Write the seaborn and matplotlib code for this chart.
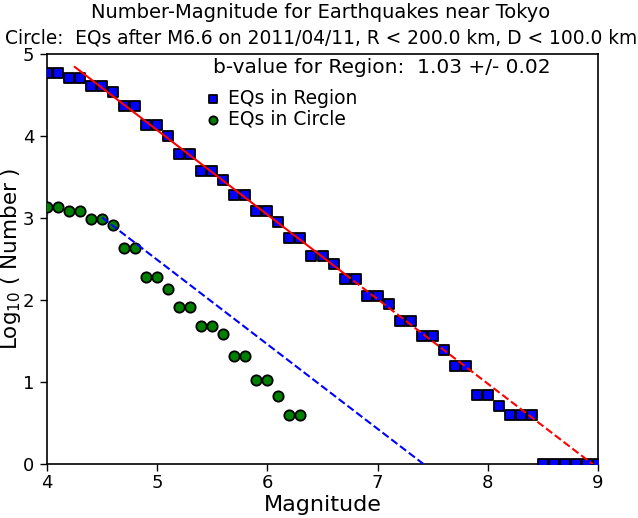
import numpy as np
import pandas as pd
import matplotlib
matplotlib.use("Agg")
import matplotlib.pyplot as plt
import seaborn as sns

# Magnitude bins (cumulative counts, log10)
mag_region = [4.0, 4.1, 4.2, 4.3, 4.4, 4.5, 4.6, 4.7, 4.8, 4.9, 5.0, 5.1, 5.2, 5.3,
              5.4, 5.5, 5.6, 5.7, 5.8, 5.9, 6.0, 6.1, 6.2, 6.3, 6.4, 6.5, 6.6, 6.7,
              6.8, 6.9, 7.0, 7.1, 7.2, 7.3, 7.4, 7.5, 7.6, 7.7, 7.8, 7.9, 8.0, 8.1,
              8.2, 8.3, 8.4, 8.5, 8.6, 8.7, 8.8, 8.9, 9.0]
logn_region = [4.77, 4.77, 4.71, 4.71, 4.61, 4.61, 4.54, 4.36, 4.36, 4.13, 4.13, 4.00,
               3.78, 3.78, 3.57, 3.57, 3.46, 3.28, 3.28, 3.08, 3.08, 2.95, 2.75, 2.75,
               2.54, 2.54, 2.44, 2.26, 2.26, 2.05, 2.05, 1.95, 1.75, 1.75, 1.56, 1.56,
               1.39, 1.20, 1.20, 0.84, 0.84, 0.71, 0.60, 0.60, 0.60, 0.0, 0.0, 0.0,
               0.0, 0.0, 0.0]

mag_circle = [4.0, 4.1, 4.2, 4.3, 4.4, 4.5, 4.6, 4.7, 4.8, 4.9, 5.0, 5.1, 5.2, 5.3,
              5.4, 5.5, 5.6, 5.7, 5.8, 5.9, 6.0, 6.1, 6.2, 6.3]
logn_circle = [3.13, 3.13, 3.09, 3.09, 2.99, 2.99, 2.91, 2.64, 2.64, 2.28, 2.28, 2.14,
               1.91, 1.91, 1.68, 1.68, 1.58, 1.32, 1.32, 1.03, 1.03, 0.83, 0.60, 0.60]

# Gutenberg-Richter fit: log10 N = a - b*M
b_value = 1.03
b_err = 0.02
a_region = 9.22
a_circle = 7.64
fit_min = 4.25
fit_max = 6.7
circle_start = 4.5

df_region = pd.DataFrame({"Magnitude": mag_region, "LogN": logn_region})
df_circle = pd.DataFrame({"Magnitude": mag_circle, "LogN": logn_circle})

sns.set_style("ticks")
plt.rcParams['font.family'] = ['DejaVu Sans']
plt.rcParams.update({'text.color': 'black', 'axes.labelcolor': 'black',
                     'xtick.color': 'black', 'ytick.color': 'black',
                     'axes.edgecolor': 'black'})

fig = plt.figure(figsize=(6.38, 5.18), dpi=100)
ax = fig.add_axes([0.0737, 0.104, 0.8636, 0.792])

sns.scatterplot(data=df_region, x="Magnitude", y="LogN", marker="s", s=48,
                color="#0000ff", edgecolor="black", linewidth=1.3,
                label="EQs in Region", ax=ax, zorder=3)
sns.scatterplot(data=df_circle, x="Magnitude", y="LogN", marker="o", s=55,
                color="green", edgecolor="black", linewidth=1.3,
                label="EQs in Circle", ax=ax, zorder=3)

# fit lines
m_solid = np.array([fit_min, fit_max])
m_dash = np.array([fit_max, 9.0])
m_circ = np.array([circle_start, 9.0])
ax.plot(m_solid, a_region - b_value * m_solid, color="red", lw=1.5, zorder=4)
ax.plot(m_dash, a_region - b_value * m_dash, color="red", lw=1.5, ls="--", zorder=4)
ax.plot(m_circ, a_circle - b_value * m_circ, color="blue", lw=1.5, ls="--", zorder=4)

ax.set_xlim(4, 9)
ax.set_ylim(0, 5)
ax.set_xticks([4, 5, 6, 7, 8, 9])
ax.set_yticks([0, 1, 2, 3, 4, 5])
ax.tick_params(labelsize=13, length=5, width=1, pad=4)
ax.tick_params(axis="x", pad=2)
for sp in ax.spines.values():
    sp.set_visible(True)
    sp.set_linewidth(1.2)

ax.set_xlabel("Magnitude", fontsize=16)
ax.xaxis.set_label_coords(0.5, -0.075)
ax.set_ylabel("Log$_{10}$ ( Number )", fontsize=15.5)
ax.yaxis.set_label_coords(-0.044, 0.5)

fig.text(0.503, 1 - 12 / 518, "Number-Magnitude for Earthquakes near Tokyo",
         fontsize=14, ha="center", va="center")
fig.text(0.503, 1 - 38 / 518,
         "Circle:  EQs after M6.6 on 2011/04/11, R < 200.0 km, D < 100.0 km",
         fontsize=13.4, ha="center", va="center")

ax.text(5.51, 4.83, "b-value for Region:  %.2f +/- %.2f" % (b_value, b_err),
        fontsize=14.5, va="center")
ax.legend(loc="upper left", bbox_to_anchor=(0.287, 0.915), frameon=False,
          fontsize=13.5, handlelength=0.8, handletextpad=0.4, borderpad=0,
          borderaxespad=0, labelspacing=0.1, markerscale=0.8)

fig.savefig("out.png", dpi=100)
